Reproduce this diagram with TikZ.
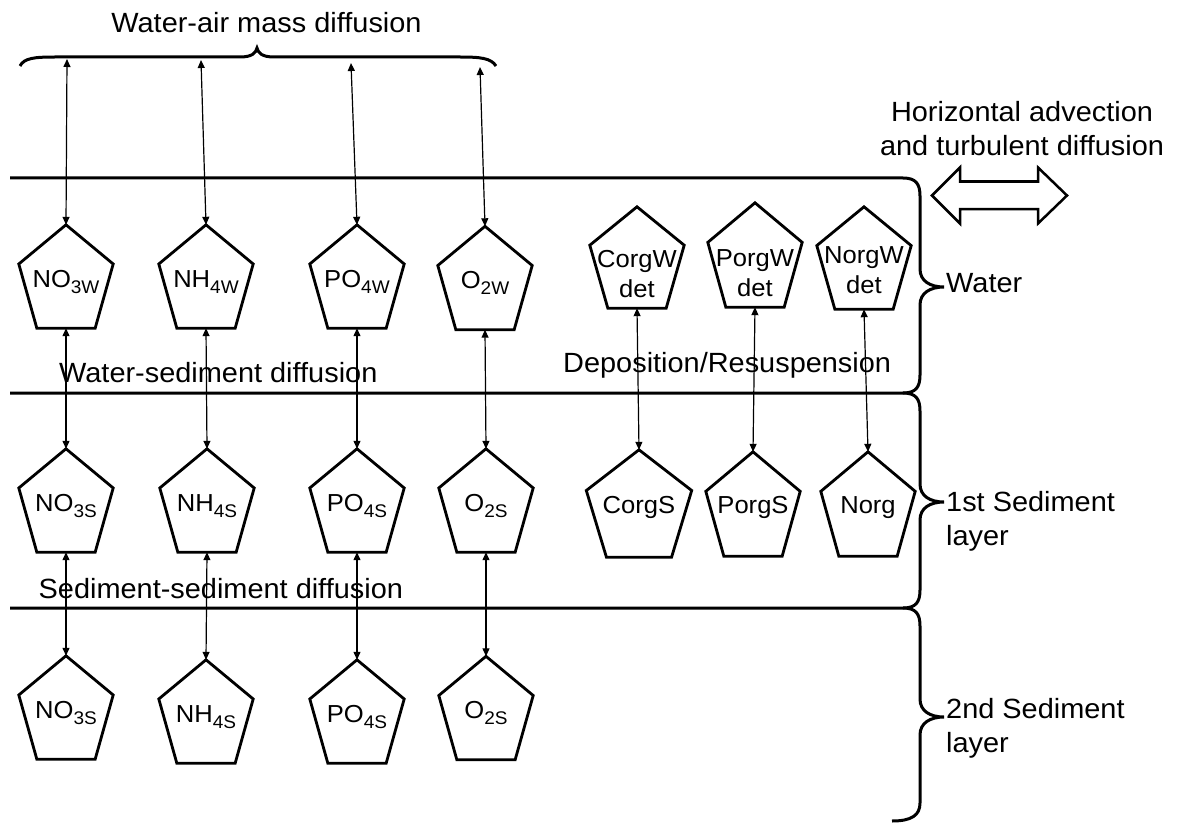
\documentclass[tikz,border=0pt]{standalone}
\usepackage{fontspec}
\setmainfont{Liberation Sans}[FakeStretch=1.04]
\usetikzlibrary{arrows.meta,calc}
\newcommand\chemlab[2]{\raisebox{-10.5pt}[0pt][0pt]{#1\raisebox{-6pt}{\fontsize{18.3}{18.3}\selectfont #2}}}
\newcommand\twolab[3]{\raisebox{-#3pt}[0pt][0pt]{\begin{tabular}[t]{@{}c@{}}#1\\#2\end{tabular}}}
\newcommand\onelab[1]{\raisebox{-9.5pt}[0pt][0pt]{#1}}
\begin{document}
\begin{tikzpicture}[x=1pt,y=-1pt,
  pent/.style={rectangle, inner sep=0pt, minimum width=94pt, minimum height=103pt, font=\fontsize{24.6}{30}\selectfont},
  pline/.style={line width=2.8pt},
  lay/.style={line width=3pt},
  flux/.style={line width=1.2pt, {Triangle[length=8pt,width=7pt]}-{Triangle[length=8pt,width=7pt]}},
  lbl/.style={font=\fontsize{27.8}{34}\selectfont, inner sep=0pt}]
\useasboundingbox (0,0) rectangle (1181,824);

% top brace
\draw[lay] (20,66) .. controls (24,58) and (35,57) .. (55,57) -- (240,57)
  .. controls (252,57) and (256,53) .. (257,48)
  .. controls (258,53) and (262,57) .. (274,57) -- (460,57)
  .. controls (480,57) and (491,58) .. (496,66);
\node[lbl, anchor=base] (tair) at (266.5,33) {Water-air mass diffusion};

% layer lines and right braces
\draw[lay] (10,178) -- (903,178) .. controls (916,178) and (920,184) .. (920,196) -- (920,269)
  .. controls (920,281) and (930,287) .. (944,287) .. controls (930,287) and (920,293) .. (920,305)
  -- (920,375) .. controls (920,387) and (916,393) .. (903,393) -- (10,393);
\draw[lay] (903,393) .. controls (916,393) and (920,399) .. (920,411) -- (920,484)
  .. controls (920,496) and (930,502) .. (944,502) .. controls (930,502) and (920,508) .. (920,520)
  -- (920,590) .. controls (920,602) and (916,608) .. (903,608) -- (10,608);
\draw[lay] (903,608) .. controls (916,608) and (920,614) .. (920,626) -- (920,699)
  .. controls (920,711) and (930,717) .. (944,717) .. controls (930,717) and (920,723) .. (920,735)
  -- (920,803) .. controls (920,815) and (912,821) .. (892,821);

% double arrow
\draw[line width=2.5pt, fill=white] (932,195.5) -- (960,167.5) -- (960,181.5) -- (1038,181.5) -- (1038,167.5)
  -- (1067,195.5) -- (1038,223.5) -- (1038,209) -- (960,209) -- (960,223.5) -- cycle;
\node[lbl, anchor=base] (thor) at (1022,121.7) {\begin{tabular}[t]{@{}c@{}}Horizontal advection\\and turbulent diffusion\end{tabular}};

% layer labels
\node[lbl, anchor=base west] (twat) at (946,292) {Water};
\node[lbl, anchor=base west] (tsed1) at (946,511.7) {\begin{tabular}[t]{@{}l@{}}1st Sediment\\layer\end{tabular}};
\node[lbl, anchor=base west] (tsed2) at (946,718) {\begin{tabular}[t]{@{}l@{}}2nd Sediment\\layer\end{tabular}};

% water row
\node[pent] (nw1) at (66,276.5) {\chemlab{NO}{3W}};
\node[pent] (nw2) at (206,276.5) {\chemlab{NH}{4W}};
\node[pent] (nw3) at (357,276.5) {\chemlab{PO}{4W}};
\node[pent] (nw4) at (485,278) {\chemlab{O}{2W}};
\node[pent, minimum height=101pt] (cw) at (637,257.5) {\twolab{CorgW}{det}{9.5}};
\node[pent, minimum height=104pt] (pw) at (755,255) {\twolab{PorgW}{det}{11}};
\node[pent, minimum height=102pt] (nwd) at (864,258) {\twolab{NorgW}{det}{5}};

% first sediment row
\node[pent] (ns1) at (66,500.5) {\chemlab{NO}{3S}};
\node[pent] (ns2) at (207,500.5) {\chemlab{NH}{4S}};
\node[pent] (ns3) at (357,500.5) {\chemlab{PO}{4S}};
\node[pent] (ns4) at (486,500.5) {\chemlab{O}{2S}};
\node[pent, minimum width=105pt, minimum height=107pt] (cs) at (639,503.5) {\onelab{CorgS}};
\node[pent, minimum height=104pt] (ps) at (753,504) {\onelab{PorgS}};
\node[pent, minimum height=104pt] (no) at (868,504) {\onelab{Norg}};

% second sediment row
\node[pent] (nd1) at (66,707.5) {\chemlab{NO}{3S}};
\node[pent] (nd2) at (206,711.5) {\chemlab{NH}{4S}};
\node[pent] (nd3) at (357,711.5) {\chemlab{PO}{4S}};
\node[pent] (nd4) at (486,708) {\chemlab{O}{2S}};

\foreach \n in {nw1,nw2,nw3,nw4,cw,pw,nwd,ns1,ns2,ns3,ns4,cs,ps,no,nd1,nd2,nd3,nd4}
  \draw[pline] (\n.north) -- ($(\n.north west)!0.379!(\n.south west)$)
    -- ($(\n.south west)!0.191!(\n.south east)$) -- ($(\n.south west)!0.809!(\n.south east)$)
    -- ($(\n.north east)!0.379!(\n.south east)$) -- cycle;

% process labels
\node[lbl, anchor=base west] (tws) at (59,382) {Water-sediment diffusion};
\node[lbl, anchor=base west] (tss) at (38.5,598) {Sediment-sediment diffusion};
\node[lbl, anchor=base west] (tdep) at (563,372) {Deposition/Resuspension};

% air coordinates
\coordinate (a1) at (67,59);
\coordinate (a2) at (201,60);
\coordinate (a3) at (351,63);
\coordinate (a4) at (480,67);

% fluxes
\draw[flux] (a1) -- (nw1.north);
\draw[flux] (a2) -- (nw2.north);
\draw[flux] (a3) -- (nw3.north);
\draw[flux] (a4) -- (nw4.north);
\draw[flux] (nw1.south) -- (ns1.north);
\draw[flux] (nw2.south) -- (ns2.north);
\draw[flux] (nw3.south) -- (ns3.north);
\draw[flux] (nw4.south) -- (ns4.north);
\draw[flux] (cw.south) -- (cs.north);
\draw[flux] (pw.south) -- (ps.north);
\draw[flux] (nwd.south) -- (no.north);
\draw[flux] (ns1.south) -- (nd1.north);
\draw[flux] (ns2.south) -- (nd2.north);
\draw[flux] (ns3.south) -- (nd3.north);
\draw[flux] (ns4.south) -- (nd4.north);
\end{tikzpicture}
\end{document}
